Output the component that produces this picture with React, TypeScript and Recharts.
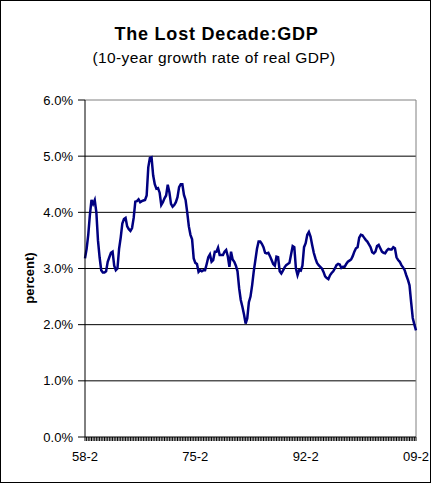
import React from 'react';
import { LineChart, Line, XAxis, YAxis, CartesianGrid, ReferenceLine } from 'recharts';

const growth: number[] = [
  3.18, 3.35, 3.6, 3.95, 4.22, 4.15, 4.22, 4.0, 3.5, 3.2,
  2.97, 2.93, 2.93, 2.95, 3.12, 3.2, 3.28, 3.3, 3.05, 2.97,
  3.0, 3.35, 3.55, 3.8, 3.88, 3.9, 3.75, 3.7, 3.67, 3.72,
  3.9, 4.19, 4.2, 4.23, 4.18, 4.2, 4.21, 4.22, 4.3, 4.8,
  4.97, 4.98, 4.66, 4.5, 4.42, 4.43, 4.35, 4.13, 4.18, 4.25,
  4.3, 4.49, 4.36, 4.15, 4.1, 4.13, 4.18, 4.27, 4.45, 4.5,
  4.5, 4.31, 4.22, 4.0, 3.75, 3.6, 3.52, 3.18, 3.1, 3.08,
  2.94, 2.97, 2.95, 2.97, 2.97, 3.08, 3.2, 3.25, 3.12, 3.15,
  3.3, 3.3, 3.37, 3.24, 3.24, 3.24, 3.3, 3.33, 3.22, 3.03,
  3.3, 3.16, 3.12, 3.05, 2.95, 2.65, 2.44, 2.32, 2.18, 2.02,
  2.11, 2.4, 2.5, 2.7, 2.95, 3.15, 3.35, 3.48, 3.48, 3.44,
  3.38, 3.28, 3.27, 3.28, 3.22, 3.15, 3.08, 3.05, 3.21, 3.2,
  2.95, 2.91, 2.96, 3.02, 3.06, 3.08, 3.1, 3.25, 3.4, 3.38,
  3.0, 2.88, 2.97, 2.96, 3.05, 3.38, 3.45, 3.6, 3.65, 3.57,
  3.42, 3.28, 3.18, 3.1, 3.06, 3.03, 3.0, 2.94, 2.86, 2.83,
  2.81, 2.88, 2.92, 2.95, 3.0, 3.06, 3.08, 3.07, 3.01, 3.03,
  3.03, 3.08, 3.12, 3.14, 3.16, 3.22, 3.3, 3.36, 3.38, 3.55,
  3.6, 3.59, 3.55, 3.51, 3.48, 3.43, 3.38, 3.29, 3.27, 3.3,
  3.4, 3.42, 3.36, 3.3, 3.28, 3.27, 3.32, 3.35, 3.34, 3.34,
  3.38, 3.36, 3.2, 3.15, 3.12, 3.06, 3.02, 2.97, 2.88, 2.8,
  2.7, 2.4, 2.12, 2.0, 1.9,
];

const startYear = 1958;
const startQuarter = 2;
const quarters: string[] = growth.map((_, i) => {
  const q = startQuarter - 1 + i;
  const y = startYear + Math.floor(q / 4);
  return `${String(y % 100).padStart(2, '0')}-${(q % 4) + 1}`;
});

const xTickLabels = ['58-2', '75-2', '92-2', '09-2'];
const yTicks = [0, 1, 2, 3, 4, 5, 6];
const gridValues = [1, 2, 3, 4, 5];

const title = 'The Lost Decade:GDP';
const subtitle = '(10-year growth rate of real GDP)';
const yLabel = 'percent)';

const data = quarters.map((q, i) => ({ q, v: growth[i] }));

const FONT = '"Liberation Sans", Arial, sans-serif';

const XTick = (props: any) => {
  const { x, y, payload } = props;
  if (!xTickLabels.includes(payload.value)) return <g />;
  return (
    <text x={x} y={y + 18} textAnchor="middle" fontSize={13} fontFamily={FONT} fill="#000">
      {payload.value}
    </text>
  );
};

export default function App() {
  return (
    <div style={{ position: 'absolute', left: 0, top: 0, width: 431, height: 483, background: '#fff' }}>
      <LineChart
        width={431}
        height={483}
        data={data}
        margin={{ top: 100, right: 15, bottom: 0, left: 0 }}
      >
        <CartesianGrid vertical={false} horizontalValues={gridValues} stroke="#000" strokeWidth={1} />
        <XAxis
          dataKey="q"
          interval={0}
          height={46}
          tickSize={4}
          tick={<XTick />}
          axisLine={{ stroke: '#000' }}
          tickLine={{ stroke: '#000' }}
        />
        <YAxis
          width={85}
          domain={[0, 6]}
          ticks={yTicks}
          type="number"
          allowDataOverflow
          tickSize={7}
          tickMargin={5}
          tickFormatter={(v: number) => `${v.toFixed(1)}%`}
          tick={{ fontSize: 13, fontFamily: FONT, fill: '#000' }}
          axisLine={{ stroke: '#000' }}
          tickLine={{ stroke: '#000' }}
        />
        <ReferenceLine y={6} stroke="#808080" />
        <ReferenceLine x="09-2" stroke="#808080" />
        <Line
          type="linear"
          dataKey="v"
          stroke="#000080"
          strokeWidth={2.5}
          dot={false}
          isAnimationActive={false}
        />
      </LineChart>
      <svg
        width={431}
        height={483}
        style={{ position: 'absolute', left: 0, top: 0, pointerEvents: 'none' }}
      >
        <text x={216.5} y={40} textAnchor="middle" fontSize={18} fontWeight="bold" letterSpacing={0.8} fontFamily={FONT} fill="#000">
          {title}
        </text>
        <text x={214} y={63} textAnchor="middle" fontSize={15.5} letterSpacing={0.4} fontFamily={FONT} fill="#000">
          {subtitle}
        </text>
        <text x={34} y={278} transform="rotate(-90, 34, 278)" textAnchor="middle" fontSize={13} fontWeight="bold" fontFamily={FONT} fill="#000">
          {yLabel}
        </text>
        <rect x={0.5} y={0.5} width={430} height={482} fill="none" stroke="#000" strokeWidth={1} />
      </svg>
    </div>
  );
}
